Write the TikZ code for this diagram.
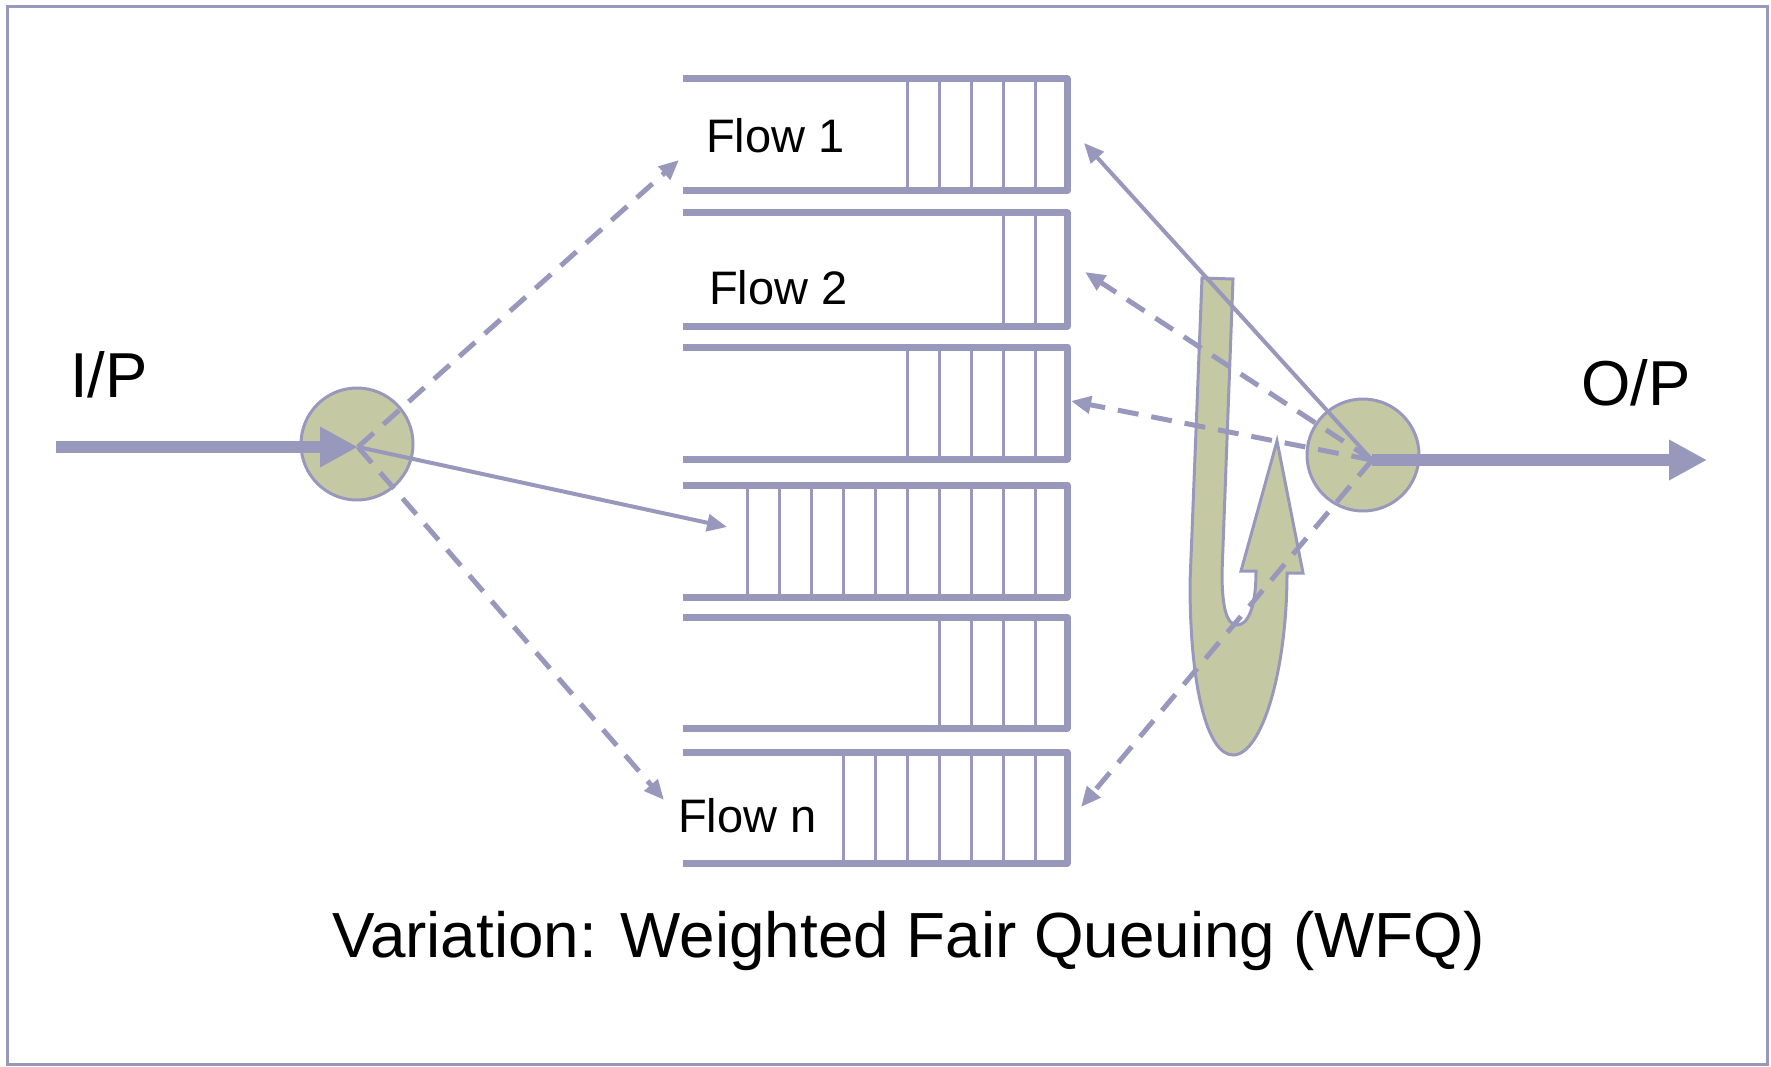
\documentclass[tikz,border=0pt]{standalone}
\usepackage{fontspec}
\setmainfont{Liberation Sans}
\usetikzlibrary{arrows.meta}
\definecolor{lav}{RGB}{152,152,188}
\definecolor{olive}{RGB}{197,201,163}
\tikzset{
  queue/.style={draw=lav, line width=7pt, line join=round},
  divider/.style={draw=lav, line width=3pt},
  hubcircle/.style={circle, draw=lav, fill=olive, line width=3pt, minimum size=112pt, inner sep=0pt},
  bigarrow/.style={draw=lav, line width=12pt, -{Triangle[length=38pt,width=38pt]}},
  solidconn/.style={draw=lav, line width=4pt, -{Triangle[length=20pt,width=17pt]}},
  dashconn/.style={draw=lav, line width=5pt, dash pattern=on 21pt off 13pt, -{Triangle[length=20pt,width=17pt]}},
  flowlabel/.style={anchor=base west, inner sep=0pt, font=\fontsize{47}{56}\selectfont},
  iolabel/.style={anchor=base west, inner sep=0pt, font=\fontsize{63.5}{76}\selectfont},
  caption/.style={anchor=base west, inner sep=0pt, font=\fontsize{63.8}{76}\selectfont},
  hookshape/.style={draw=lav, fill=olive, line width=3pt, line join=miter}
}
\begin{document}
\begin{tikzpicture}[x=1pt, y=-1pt]
\useasboundingbox (0,0) rectangle (1771,1067);
\draw[lav, line width=3pt] (7,7) rectangle (1767,1064);

% queues
\foreach \t/\b/\n in {79/191/5, 213/326/2, 347/459/5, 485/597/10, 617/728/4, 752/863/7} {
  \foreach \k in {1,...,\n} \draw[divider] ({1067-32*\k},\t) -- ({1067-32*\k},\b);
  \draw[queue] (683,\t) -- (1067,\t) -- (1067,\b) -- (683,\b);
}

% labels
\node[flowlabel] (flow1) at (706,153) {Flow 1};
\node[flowlabel] (flow2) at (709,304) {Flow 2};
\node[flowlabel] (flown) at (678,832) {Flow n};
\node[iolabel] (iplabel) at (70,397) {I/P};
\node[iolabel] (oplabel) at (1581,405) {O/P};
\node[caption] (cap) at (332,957) {Variation: Weighted Fair Queuing (WFQ)};

% hook (u-turn) arrow
\draw[hookshape] (1202,278) -- (1190,583)
  .. controls (1190,690) and (1208,755) .. (1233,755)
  .. controls (1262,755) and (1287,670) .. (1287,573)
  -- (1303,573) -- (1277,441) -- (1241,571) -- (1256,571)
  .. controls (1256,610) and (1247,625) .. (1237,625)
  .. controls (1226,625) and (1222,605) .. (1222,573)
  -- (1233,279) -- cycle;

% hub circles
\node[hubcircle] (incircle) at (357,444) {};
\node[hubcircle] (outcircle) at (1363,455) {};

% points
\coordinate (inhub) at (358,447);
\coordinate (outhub) at (1372,460);
\coordinate (instart) at (56,447);
\coordinate (outend) at (1707,460);
\coordinate (inq1) at (679,160);
\coordinate (inq4) at (727,527);
\coordinate (inqn) at (664,800);
\coordinate (outq1) at (1084,143);
\coordinate (outq2) at (1085,272);
\coordinate (outq3) at (1071,401);
\coordinate (outqn) at (1081,807);

% connectors
\draw[dashconn] (inhub) -- (inq1);
\draw[solidconn] (inhub) -- (inq4);
\draw[dashconn] (inhub) -- (inqn);
\draw[solidconn] (outhub) -- (outq1);
\draw[dashconn] (outhub) -- (outq2);
\draw[dashconn] (outhub) -- (outq3);
\draw[dashconn] (outhub) -- (outqn);
\draw[bigarrow] (instart) -- (inhub);
\draw[bigarrow] (outhub) -- (outend);
\end{tikzpicture}
\end{document}
